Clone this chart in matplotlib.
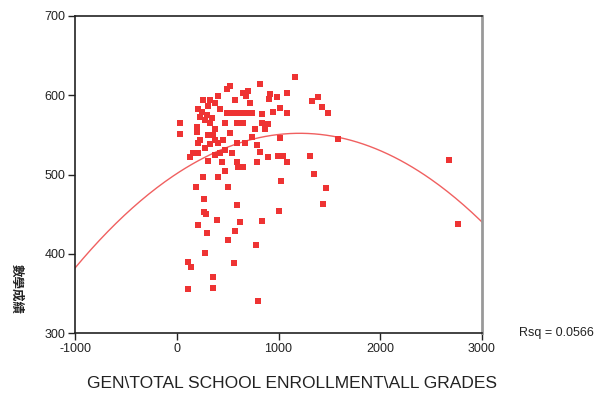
import numpy as np
from matplotlib import pyplot as plt

# total school enrollment (x) and math score (y)
enroll = [1160, 816, 521, 491, 698, 649, 678, 914, 983, 1081, 904, 1386, 1327, 1425, 1484,
          1012, 1081, 943, 835, 737, 688, 403, 324, 256, 373, 305, 206, 423, 491, 541,
          590, 639, 246, 295, 344, 275, 324, 472, 590, 649, 29, 29, 197, 197, 226,
          305, 354, 373, 403, 324, 275, 206, 472, 590, 668, 157, 128, 206, 373, 423,
          541, 835, 894, 767, 865, 737, 1012, 786, 816, 894, 993, 1042, 1307, 1582, 1081,
          786, 649, 590, 472, 305, 442, 600, 1346, 1022, 1464, 1435, 1002, 835, 256, 403,
          187, 501, 265, 590, 265, 285, 393, 619, 206, 295, 570, 501, 275, 108, 138,
          560, 776, 354, 354, 108, 796, 2673, 2762,
          226, 373, 521, 452, 718, 570]
score = [623, 614, 612, 608, 605, 603, 599, 602, 598, 603, 595, 598, 593, 585, 578,
         584, 578, 579, 576, 578, 578, 599, 594, 594, 590, 586, 583, 583, 578, 578,
         578, 578, 579, 575, 571, 569, 565, 565, 565, 565, 565, 551, 560, 554, 544,
         550, 550, 544, 540, 538, 533, 540, 531, 540, 540, 527, 522, 527, 525, 527,
         527, 565, 564, 557, 557, 547, 546, 537, 528, 522, 523, 523, 523, 545, 516,
         516, 509, 516, 504, 517, 516, 509, 501, 492, 483, 463, 454, 441, 497, 497,
         484, 484, 469, 461, 453, 450, 443, 440, 436, 426, 429, 417, 401, 390, 383,
         388, 411, 371, 357, 356, 340, 518, 438,
         572, 557, 552, 544, 590, 594]

# quadratic fit shown on the chart (Rsq = 0.0566)
fit_coef = [-3.487e-5, 0.08425, 501.1]
rsq = 0.0566

plt.rcParams['font.family'] = ['Liberation Sans', 'DejaVu Sans']
plt.rcParams['axes.unicode_minus'] = False

fig = plt.figure(figsize=(6.14, 3.94), dpi=100)
ax = fig.add_axes([75/614, 61/394, 407/614, 317/394])

ax.scatter(enroll, score, marker='s', s=18, c='#ee3333', edgecolors='none', zorder=3)

xs = np.linspace(-1000, 3000, 200)
ax.plot(xs, np.polyval(fit_coef, xs), color='#f06060', lw=1.0, zorder=2)

ax.set_xlim(-1000, 3000)
ax.set_ylim(300, 700)
ax.set_xticks([-1000, 0, 1000, 2000, 3000])
ax.set_yticks([300, 400, 500, 600, 700])
ax.tick_params(labelsize=9, length=5, width=1, pad=2, colors='#222222')
for s in ['left', 'bottom', 'top']:
    ax.spines[s].set_color('#222222')
    ax.spines[s].set_linewidth(1.2)
ax.spines['right'].set_color('#999999')
ax.spines['right'].set_linewidth(2)

fig.text(292/614, 1 - 383/394, 'GEN\\TOTAL SCHOOL ENROLLMENT\\ALL GRADES',
         ha='center', va='center', fontsize=12.5, color='#222222')
fig.text(519/614, 1 - 333/394, 'Rsq = %.4f' % rsq, ha='left', va='center',
         fontsize=9, color='#222222')
fig.text(16/614, 1 - 289/394, '數學成績', rotation=-90, ha='center', va='center',
         fontsize=9, fontweight='bold', color='#222222',
         family=['Noto Sans CJK TC', 'DejaVu Sans'])

plt.savefig('out.png', dpi=100)
